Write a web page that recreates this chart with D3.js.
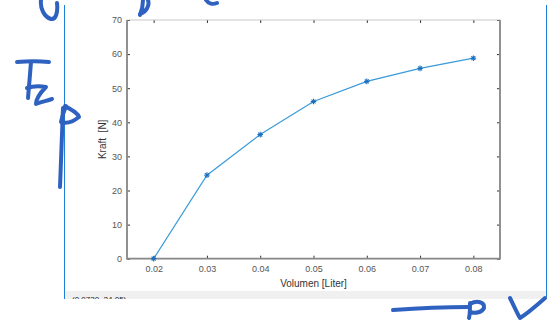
<!DOCTYPE html>
<html>
<head>
<meta charset="utf-8">
<script src="https://cdn.jsdelivr.net/npm/d3@7"></script>
<style>
  body { margin: 0; background: #fff; }
  svg { display: block; font-family: "Liberation Sans", Arial, sans-serif; }
</style>
</head>
<body>
<div id="chart"></div>
<script>
// data
const volumen = [0.02, 0.03, 0.04, 0.05, 0.06, 0.07, 0.08];
const kraft = [0, 24.5, 36.4, 46.1, 52.0, 55.8, 58.8];
const xTicks = [0.02, 0.03, 0.04, 0.05, 0.06, 0.07, 0.08];
const yTicks = [0, 10, 20, 30, 40, 50, 60, 70];

const W = 552, H = 326;
const plot = { left: 127, top: 20, right: 500, bottom: 258.7 };

const svg = d3.select('#chart').append('svg')
  .attr('width', W).attr('height', H);

// window frame bits around the figure (blue edges, grey status strip)
svg.append('rect').attr('x', 65).attr('y', 291).attr('width', 481).attr('height', 8)
  .attr('fill', '#f0f0f0');
svg.append('text').attr('x', 72).attr('y', 302).attr('font-size', 8)
  .attr('fill', '#222').text('(0.0730, 24.05)');
svg.append('rect').attr('x', 0).attr('y', 299).attr('width', W).attr('height', 27).attr('fill', '#fff');
svg.append('line').attr('x1', 64.5).attr('x2', 64.5).attr('y1', 5).attr('y2', 299)
  .attr('stroke', '#1e7fd8').attr('stroke-width', 1);
svg.append('line').attr('x1', 546.5).attr('x2', 546.5).attr('y1', 5).attr('y2', 297)
  .attr('stroke', '#1e7fd8').attr('stroke-width', 1);

const x = d3.scaleLinear().domain([0.015, 0.085]).range([plot.left, plot.right]);
const y = d3.scaleLinear().domain([0, 70]).range([plot.bottom, plot.top]);

const axisColor = '#888';
const g = svg.append('g');

// axes with inward ticks, like the box style of the original
const axBottom = g.append('g').attr('transform', `translate(0,${plot.bottom})`)
  .call(d3.axisBottom(x).tickValues(xTicks).tickSizeInner(-3).tickSizeOuter(0).tickPadding(7)
    .tickFormat(d3.format('.2f')));
const axTop = g.append('g').attr('transform', `translate(0,${plot.top})`)
  .call(d3.axisTop(x).tickValues(xTicks).tickSizeInner(-3).tickSizeOuter(0).tickFormat(''));
const axLeft = g.append('g').attr('transform', `translate(${plot.left},0)`)
  .call(d3.axisLeft(y).tickValues(yTicks).tickSizeInner(-3).tickSizeOuter(0).tickPadding(5));
const axRight = g.append('g').attr('transform', `translate(${plot.right},0)`)
  .call(d3.axisRight(y).tickValues(yTicks).tickSizeInner(-3).tickSizeOuter(0).tickFormat(''));

[axBottom, axTop, axLeft, axRight].forEach(a => {
  a.select('.domain').remove();
  a.selectAll('line').attr('stroke', '#333').attr('stroke-width', 1);
  a.selectAll('text').attr('font-size', 9).attr('fill', '#555')
    .attr('font-family', '"Liberation Sans", Arial, sans-serif');
});

// frame
g.append('rect').attr('x', plot.left).attr('y', plot.top)
  .attr('width', plot.right - plot.left).attr('height', plot.bottom - plot.top)
  .attr('fill', 'none').attr('stroke', '#bbb').attr('stroke-width', 0.8);
g.append('path')
  .attr('d', `M${plot.left},${plot.top}V${plot.bottom}H${plot.right}V${plot.top}`)
  .attr('fill', 'none').attr('stroke', axisColor).attr('stroke-width', 1.8);

// axis labels
svg.append('text').attr('x', 313.5).attr('y', 287)
  .attr('text-anchor', 'middle').attr('font-size', 10).attr('fill', '#333')
  .text('Volumen [Liter]');
svg.append('text').attr('transform', `translate(106,${(plot.top + plot.bottom) / 2}) rotate(-90)`)
  .attr('text-anchor', 'middle').attr('font-size', 10).attr('fill', '#333')
  .attr('xml:space', 'preserve').text('Kraft  [N]');

// data line
const pts = volumen.map((v, i) => [v, kraft[i]]);
g.append('path').datum(pts)
  .attr('d', d3.line().x(d => x(d[0])).y(d => y(d[1])))
  .attr('fill', 'none').attr('stroke', '#3a9ad9').attr('stroke-width', 1.2);

// asterisk markers
const star = g.append('g').selectAll('g').data(pts).enter().append('g')
  .attr('transform', d => `translate(${x(d[0])},${y(d[1])})`);
[0, 45, 90, 135].forEach(a => {
  star.append('line').attr('x1', -2.8).attr('x2', 2.8)
    .attr('transform', `rotate(${a})`)
    .attr('stroke', '#1a6fc0').attr('stroke-width', 1.1);
});

// handwritten pen strokes on top of the screenshot
const ink = svg.append('g').attr('fill', 'none').attr('stroke', '#2f62c0')
  .attr('stroke-width', 4).attr('stroke-linecap', 'round').attr('stroke-linejoin', 'round');
const strokes = [
  'M41,0 C40,8 44,17 51,19 C56,20 58,12 57,3',
  'M140,15 C142,10 143,5 143,0 M140,14 C146,12 150,6 148,0',
  'M206,0 C208,3 212,5 217,3',
  'M17,62 C28,61 40,61 49,62',
  'M31,62 C30,74 29,87 28,98',
  'M27,88 C33,86 40,86 46,87 C40,93 36,99 36,104 C41,102 46,101 52,99',
  'M63,108 C62,135 61,160 60,187',
  'M65,106 C72,110 78,113 79,117 C74,121 67,124 61,122 C62,117 64,111 66,106',
  'M393,310 C420,308 445,307 469,307',
  'M470,304 C477,300 485,302 484,308 C482,312 476,314 470,312 M470,303 C470,309 470,315 469,318',
  'M510,298 C514,306 517,313 520,318 C528,313 537,305 545,298'
];
ink.selectAll('path').data(strokes).enter().append('path').attr('d', d => d);
</script>
</body>
</html>
